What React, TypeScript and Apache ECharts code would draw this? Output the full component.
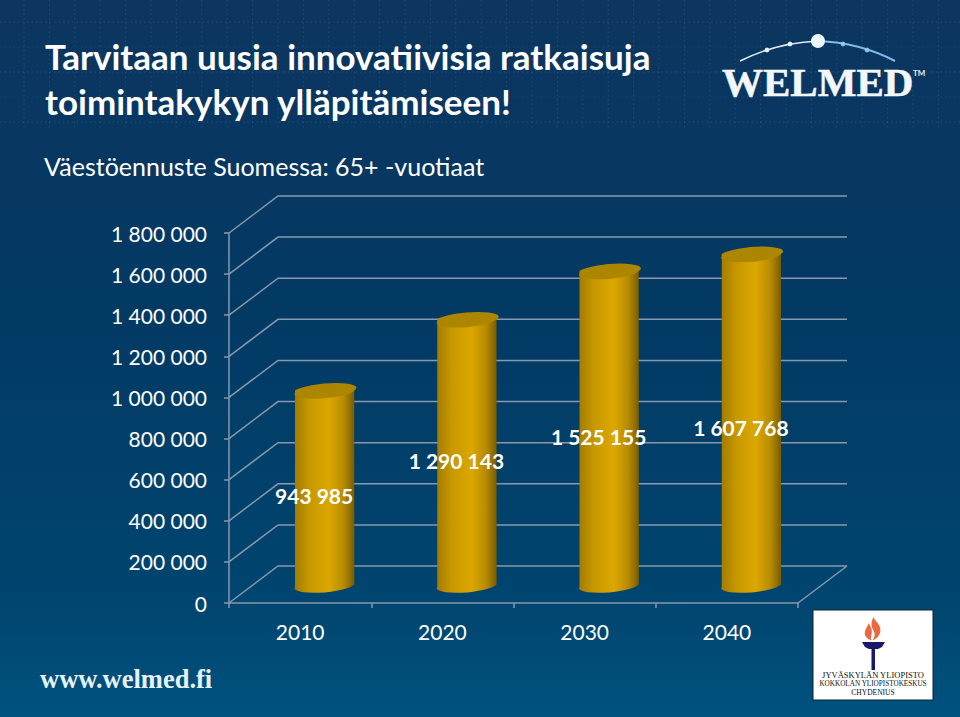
import React, { useEffect, useRef } from "react";
import * as echarts from "echarts";

const titleText = "Tarvitaan uusia innovatiivisia ratkaisuja\ntoimintakykyn ylläpitämiseen!";
const subtitleText = "Väestöennuste Suomessa: 65+ -vuotiaat";
const years = ["2010", "2020", "2030", "2040"];
const population = [943985, 1290143, 1525155, 1607768];
const gridTicks = [0, 200000, 400000, 600000, 800000, 1000000, 1200000, 1400000, 1600000, 1800000];

const FONT = "Lato, Carlito, sans-serif";
const SERIF = "'Liberation Serif', serif";
const DEPTH_X = 49;
const DEPTH_Y = -37;
const LINE = "#8799ab";

const spaced = (v: number) => String(v).replace(/\B(?=(\d{3})+$)/g, " ");

const flamePath =
  "M10 0 C12 6 19 9 17 17 C16 22 12 25 9 26 C12 21 12 18 9 13 C7 9 8 4 10 0 Z " +
  "M5 7 C7 11 9 14 8 19 C7 22 7 24 8 26 C3 24 0 21 1 16 C2 12 4 10 5 7 Z";

function texture() {
  const out: any[] = [];
  for (let x = 24; x < 960; x += 25.4) {
    out.push({
      type: "line", silent: true,
      shape: { x1: x, y1: 0, x2: x, y2: 130 },
      style: { stroke: "#7fa6c8", opacity: 0.2, lineWidth: 1, lineDash: [1.5, 3] },
    });
  }
  for (const y of [22, 47, 72, 97, 122]) {
    out.push({
      type: "line", silent: true,
      shape: { x1: 0, y1: y, x2: 960, y2: y },
      style: { stroke: "#7fa6c8", opacity: y === 47 || y === 97 ? 0.1 : 0.22, lineWidth: 1, lineDash: [1.5, 3] },
    });
  }
  return out;
}

function welmedLogo() {
  const nodes = [[767, 50, "#e8f3fb"], [790, 44, "#e8f3fb"], [843, 44, "#8cc6ea"], [867, 50, "#8cc6ea"]];
  return [
    {
      type: "bezierCurve", silent: true,
      shape: { x1: 740, y1: 61, cpx1: 770, cpy1: 46, cpx2: 795, cpy2: 42, x2: 818, y2: 41 },
      style: { stroke: "#dcebf6", lineWidth: 1.5, fill: "none" },
    },
    {
      type: "bezierCurve", silent: true,
      shape: { x1: 818, y1: 41, cpx1: 845, cpy1: 42, cpx2: 870, cpy2: 48, x2: 895, y2: 61 },
      style: { stroke: "#7dbde6", lineWidth: 2, fill: "none" },
    },
    ...nodes.map(([x, y, c]) => ({
      type: "circle", silent: true,
      shape: { cx: x, cy: y, r: 2.4 },
      style: { fill: c },
    })),
    { type: "circle", silent: true, shape: { cx: 818, cy: 41, r: 7 }, style: { fill: "#eef7fd" } },
    {
      type: "text", silent: true,
      style: { x: 722, y: 102, text: "WELMED", fill: "#f2f7fb", font: `bold 41px ${SERIF}`, textAlign: "left", textVerticalAlign: "bottom", stroke: "#f2f7fb", lineWidth: 0.5 },
    },
    {
      type: "text", silent: true,
      style: { x: 913, y: 73, text: "TM", fill: "#e6eef5", font: `bold 8px Lato, sans-serif`, textAlign: "left", textVerticalAlign: "middle" },
    },
  ];
}

function universityLogo() {
  return [
    { type: "rect", silent: true, shape: { x: 813, y: 610, width: 120, height: 90 }, style: { fill: "#ffffff", stroke: "#0b2138", lineWidth: 1 } },
    { type: "flame", silent: true, x: 864, y: 617, scaleX: 0.95, scaleY: 0.9, style: { fill: "#ea6a3f" } },
    { type: "polygon", silent: true, shape: { points: [[862, 642], [885, 642], [882, 647], [878, 649], [869, 649], [865, 647]] }, style: { fill: "#171a6b" } },
    { type: "rect", silent: true, shape: { x: 871.5, y: 648, width: 3.5, height: 22 }, style: { fill: "#171a6b" } },
    { type: "text", silent: true, style: { x: 873, y: 675, text: "JYVÄSKYLÄN YLIOPISTO", fill: "#111", font: `8.5px ${SERIF}`, textAlign: "center", textVerticalAlign: "middle" } },
    { type: "text", silent: true, style: { x: 873, y: 684, text: "KOKKOLAN YLIOPISTOKESKUS", fill: "#111", font: `7.2px ${SERIF}`, textAlign: "center", textVerticalAlign: "middle" } },
    { type: "text", silent: true, style: { x: 873, y: 692, text: "CHYDENIUS", fill: "#111", font: `7.5px ${SERIF}`, textAlign: "center", textVerticalAlign: "middle" } },
  ];
}

function renderFloorAndWalls(params: any, api: any) {
  const cs = params.coordSys;
  const v = api.value(0);
  const y = api.coord([0, v])[1];
  const left = cs.x;
  const right = cs.x + cs.width;
  const children: any[] = [
    {
      type: "polyline",
      shape: { points: [[left, y], [left + DEPTH_X, y + DEPTH_Y], [right + DEPTH_X, y + DEPTH_Y]] },
      style: { stroke: LINE, lineWidth: 1.5, fill: "none" },
    },
  ];
  if (v === 0) {
    children.push({
      type: "line",
      shape: { x1: right, y1: y, x2: right + DEPTH_X, y2: y + DEPTH_Y },
      style: { stroke: LINE, lineWidth: 1.5 },
    });
  }
  return { type: "group", children };
}

function renderCylinder(params: any, api: any) {
  const i = api.value(0);
  const v = api.value(1);
  const top = api.coord([i, v]);
  const base = api.coord([i, 0]);
  const cx = top[0] + DEPTH_X / 2;
  const ty = top[1] + DEPTH_Y / 2;
  const by = base[1] + DEPTH_Y / 2;
  const rx = 29.6;
  const ry = 6.4;
  const tilt = 2.5;
  const rot = -4.8;
  const body =
    `M${cx - rx} ${ty + tilt} L${cx - rx} ${by + tilt} ` +
    `A${rx} ${ry} ${rot} 0 0 ${cx + rx} ${by - tilt} L${cx + rx} ${ty - tilt} Z`;
  const cap =
    `M${cx - rx} ${ty + tilt} A${rx} ${ry} ${rot} 0 0 ${cx + rx} ${ty - tilt} ` +
    `A${rx} ${ry} ${rot} 0 0 ${cx - rx} ${ty + tilt} Z`;
  const labelY = api.coord([i, v / 2])[1] - 10;
  return {
    type: "group",
    children: [
      {
        type: "path",
        shape: { pathData: body },
        style: {
          fill: {
            type: "linear", x: 0, y: 0, x2: 1, y2: 0,
            colorStops: [
              { offset: 0, color: "#a37b00" },
              { offset: 0.25, color: "#c79800" },
              { offset: 0.58, color: "#dca700" },
              { offset: 0.82, color: "#b88c00" },
              { offset: 1, color: "#7a5c00" },
            ],
          },
        },
      },
      { type: "path", shape: { pathData: cap }, style: { fill: "#ad8600" } },
      {
        type: "text",
        style: {
          x: top[0] + 14,
          y: labelY,
          text: spaced(v),
          fill: "#ffffff",
          font: `bold 21px ${FONT}`,
          textAlign: "center",
          textVerticalAlign: "middle",
        },
      },
    ],
  };
}

export default function App() {
  const ref = useRef<HTMLDivElement>(null);
  useEffect(() => {
    document.body.style.margin = "0";
    echarts.graphic.registerShape("flame", echarts.graphic.extendPath(flamePath as any, {}) as any);
    const chart = echarts.init(ref.current!, undefined, { renderer: "svg" });
    chart.setOption({
      animation: false,
      backgroundColor: {
        type: "linear", x: 0, y: 0, x2: 0, y2: 1,
        colorStops: [
          { offset: 0, color: "#0c355f" },
          { offset: 0.45, color: "#023a64" },
          { offset: 0.85, color: "#004670" },
          { offset: 1, color: "#00527f" },
        ],
      },
      title: [
        {
          text: titleText, left: 45, top: 33, padding: 0,
          textStyle: { color: "#ffffff", fontFamily: FONT, fontWeight: "bold", fontSize: 35, lineHeight: 45 },
        },
        {
          text: subtitleText, left: 44, top: 153, padding: 0,
          textStyle: { color: "#ffffff", fontFamily: FONT, fontWeight: "normal", fontSize: 25 },
        },
        {
          text: "www.welmed.fi", left: 40, top: 665, padding: 0,
          textStyle: { color: "#e6f1f8", fontFamily: SERIF, fontWeight: "bold", fontSize: 26.5 },
        },
      ],
      graphic: { elements: [...texture(), ...welmedLogo(), ...universityLogo()] },
      grid: { left: 229, top: 233, width: 569, height: 370, containLabel: false },
      xAxis: {
        type: "category",
        data: years,
        boundaryGap: true,
        axisLine: { show: true, lineStyle: { color: LINE, width: 1.5 } },
        axisTick: { show: true, length: 5, alignWithLabel: false, lineStyle: { color: LINE, width: 1.5 } },
        axisLabel: { color: "#ffffff", fontFamily: FONT, fontSize: 21, margin: 18 },
        splitLine: { show: false },
      },
      yAxis: {
        type: "value",
        min: 0,
        max: 1800000,
        interval: 200000,
        axisLine: { show: true, lineStyle: { color: LINE, width: 1.5 } },
        axisTick: { show: true, length: 5, lineStyle: { color: LINE, width: 1.5 } },
        axisLabel: { color: "#ffffff", fontFamily: FONT, fontSize: 21, margin: 22, formatter: (v: number) => spaced(v) },
        splitLine: { show: false },
      },
      series: [
        {
          type: "custom",
          coordinateSystem: "cartesian2d",
          silent: true,
          clip: false,
          z: 1,
          renderItem: renderFloorAndWalls,
          encode: { x: -1, y: 0 },
          data: gridTicks.map((v) => [v]),
        },
        {
          type: "custom",
          coordinateSystem: "cartesian2d",
          silent: true,
          clip: false,
          z: 3,
          renderItem: renderCylinder,
          encode: { x: 0, y: 1 },
          data: population.map((v, i) => [i, v]),
        },
      ],
    });
    return () => chart.dispose();
  }, []);
  return <div ref={ref} style={{ width: 960, height: 717 }} />;
}
